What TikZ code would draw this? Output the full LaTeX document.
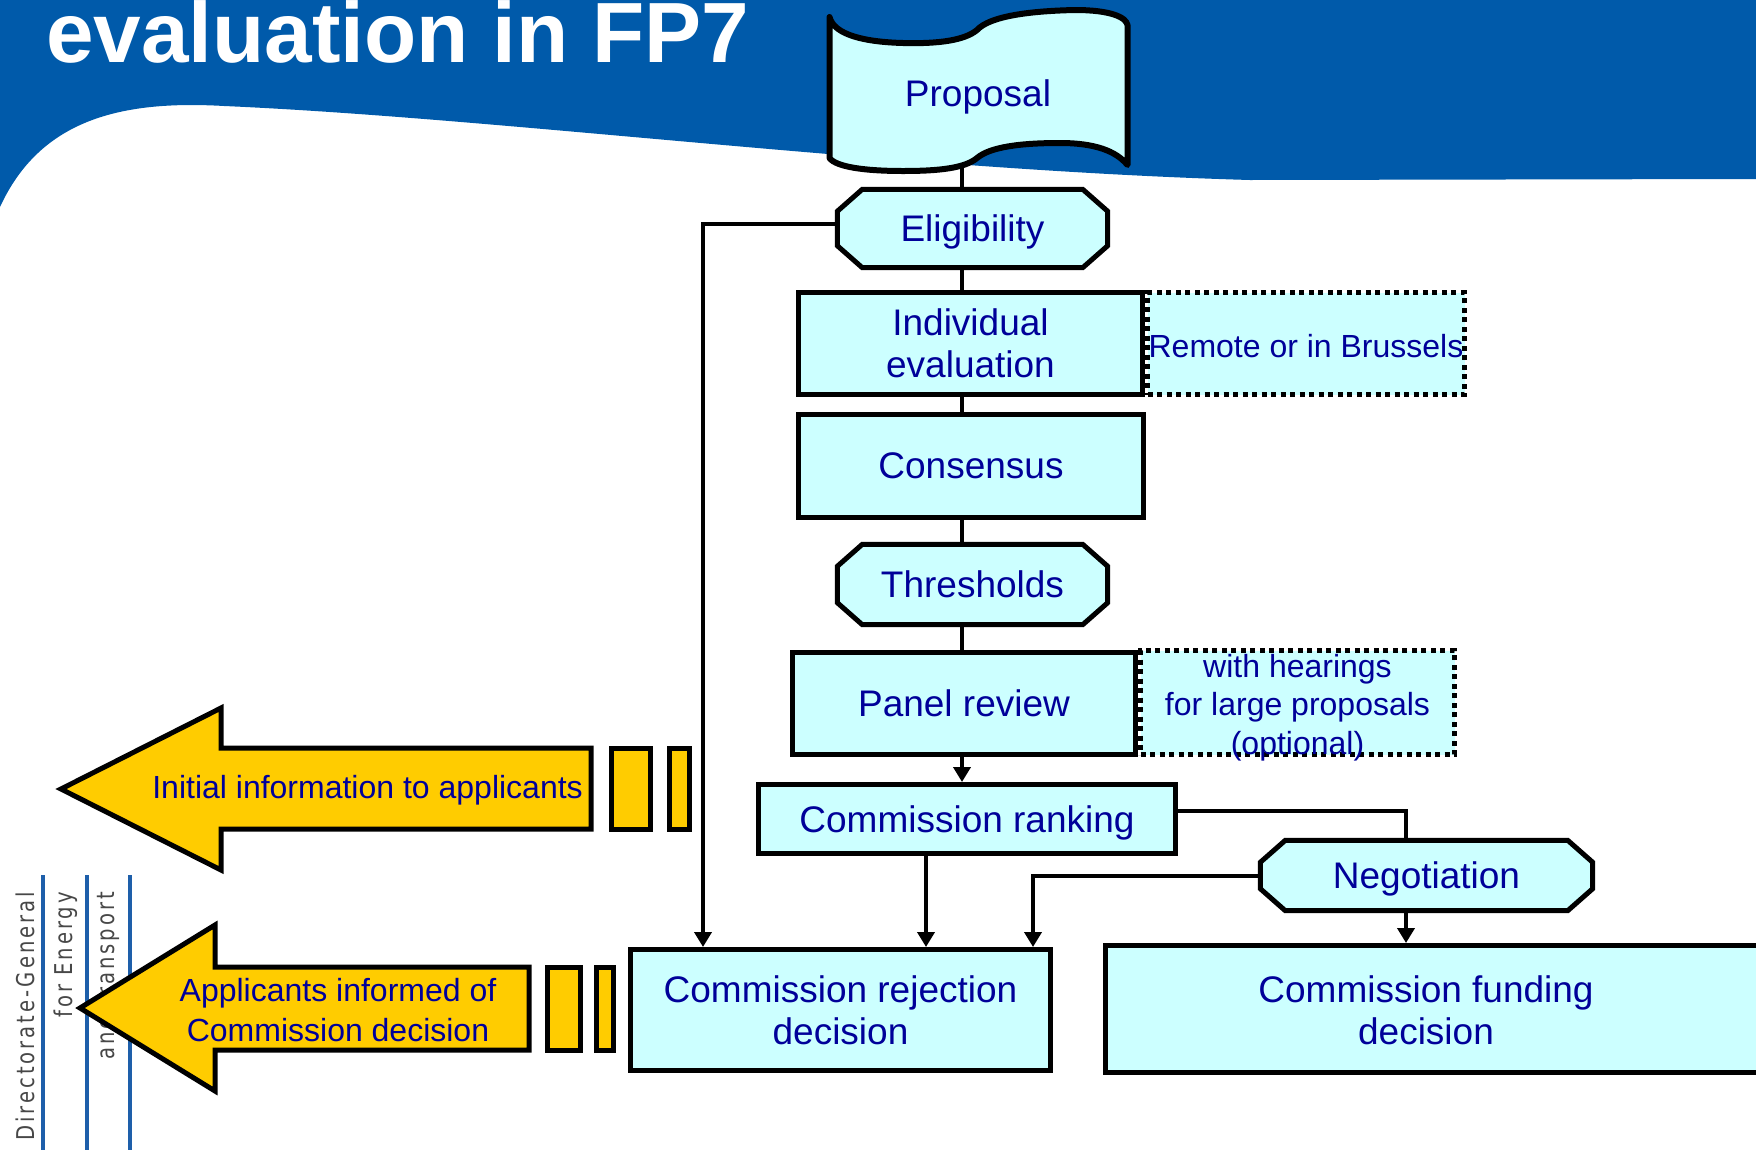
\documentclass[tikz,border=0pt]{standalone}
\usepackage{fontspec}
\setmainfont{Liberation Sans}
\newfontfamily\dgfont[FakeStretch=0.8,LetterSpace=12]{DejaVu Sans}
\usetikzlibrary{arrows.meta}
\definecolor{hdr}{RGB}{0,90,170}
\definecolor{boxfill}{RGB}{204,255,255}
\definecolor{txtblue}{RGB}{0,0,153}
\definecolor{yel}{RGB}{255,204,0}
\definecolor{dgline}{RGB}{30,95,170}
\pgfdeclarelayer{back}
\pgfdeclarelayer{conn}
\pgfdeclarelayer{shapes}
\pgfsetlayers{back,conn,shapes,main}
\tikzset{
  mainfont/.style={font=\fontsize{37}{42}\selectfont},
  smallfont/.style={font=\fontsize{32}{38.5}\selectfont},
  boxst/.style={draw=black, line width=5pt, fill=boxfill, text=txtblue, mainfont, align=center, inner sep=0pt},
  sidest/.style={draw=black, line width=5pt, dash pattern=on 5pt off 4.5pt, fill=boxfill, text=txtblue, smallfont, align=center, inner sep=0pt},
  txtonly/.style={text=txtblue, mainfont, align=center, inner sep=0pt},
  nodepth/.style={text depth=0pt},
  octst/.style={draw=black, line width=5pt, fill=boxfill, line join=miter},
  octo/.style={insert path={([xshift=25pt]#1.north west) -- ([xshift=-25pt]#1.north east) -- ([yshift=-22pt]#1.north east) -- ([yshift=22pt]#1.south east) -- ([xshift=-25pt]#1.south east) -- ([xshift=25pt]#1.south west) -- ([yshift=22pt]#1.south west) -- ([yshift=-22pt]#1.north west) -- cycle}},
  flagst/.style={draw=black, line width=6pt, fill=boxfill, line join=round},
  conn/.style={draw=black, line width=4pt},
  arr/.style={conn, -{Triangle[width=17pt,length=15pt]}},
  yarrow/.style={draw=black, line width=5pt, fill=yel, line join=miter},
  ytxt/.style={text=txtblue, align=center, inner sep=0pt, font=\fontsize{32}{40}\selectfont},
  dgl/.style={draw=dgline, line width=4pt},
  dgtxt/.style={text=black!72, font=\dgfont\fontsize{24.5}{24.5}\selectfont, inner sep=0pt, rotate=90, anchor=east},
  titlest/.style={text=white, font=\fontsize{85.5}{85.5}\selectfont\bfseries, inner sep=0pt, anchor=base west}
}
\begin{document}
\begin{tikzpicture}[x=1pt,y=-1pt]
\useasboundingbox (0,0) rectangle (1756,1149);
\begin{pgfonlayer}{back}
  \fill[hdr] (0,0) -- (1756,0) -- (1756,179) -- (1250,180) .. controls (900,170) and (500,118) .. (224,106) .. controls (120,100) and (40,120) .. (0,207) -- cycle;
\end{pgfonlayer}
\node[titlest] (title) at (46,62) {evaluation in FP7};

% left branding
\draw[dgl] (43,875) -- (43,1160);
\draw[dgl] (87,875) -- (87,1160);
\draw[dgl] (130,875) -- (130,1160);
\node[dgtxt] (dg1) at (25,892) {Directorate-General};
\node[dgtxt] (dg2) at (66,892) {for Energy};
\node[dgtxt] (dg3) at (108,892) {and Transport};

% guide coordinates
\coordinate (spine) at (962,0);
\coordinate (lx) at (703,0);
\coordinate (mx) at (926,0);
\coordinate (rx) at (1033,0);
\coordinate (nx) at (1406,0);

% nodes
\node[txtonly, nodepth, minimum width=300, minimum height=145] (prop) at (978,93.5) {Proposal};
\node[txtonly, nodepth, minimum width=270, minimum height=78] (elig) at (972.5,228.5) {Eligibility};
\node[sidest, text height=27pt, text depth=0pt, minimum width=317, minimum height=102] (remote) at (1306,343.5) {Remote or in Brussels};
\node[boxst, minimum width=344, minimum height=102] (indiv) at (970.5,343.5) {Individual\\evaluation};
\node[boxst, minimum width=345, minimum height=103] (cons) at (971,466) {Consensus};
\node[txtonly, minimum width=270, minimum height=80] (thr) at (972.5,584.5) {Thresholds};
\node[sidest, minimum width=314, minimum height=104] (hear) at (1297.5,702.5) {};
\node[text=txtblue, smallfont, align=center, inner sep=0pt] (hearT) at (hear) {\rule{0pt}{33pt}with hearings\\for large proposals\\(optional)};
\node[boxst, minimum width=343, minimum height=102] (panel) at (964,703.5) {Panel review};
\node[boxst, nodepth, minimum width=417, minimum height=69] (rank) at (967,819) {Commission ranking};
\node[txtonly, nodepth, minimum width=332, minimum height=70] (neg) at (1426.5,875.5) {Negotiation};
\node[boxst, minimum width=420, minimum height=121] (rej) at (840.5,1010) {Commission rejection\\decision};
\node[boxst, minimum width=700, minimum height=127, anchor=west] (fund) at (1102.5,1009) {};
\node[txtonly] (fundT) at (1426,1010) {Commission funding\\decision};

% shapes behind text
\begin{pgfonlayer}{shapes}
  \filldraw[flagst] (829.5,17) .. controls (834,35) and (865,42) .. (903,43) .. controls (940,44) and (965,40) .. (977,30) .. controls (990,16) and (1030,11) .. (1075,10) .. controls (1110,10) and (1126,17) .. (1127.5,25) -- (1127.5,165) .. controls (1116,151) and (1095,143) .. (1060,143) .. controls (1020,143) and (990,147) .. (977,158) .. controls (965,168) and (940,171) .. (903,171) .. controls (865,171) and (836,167) .. (829.5,158) -- cycle;
  \path[octst, octo=elig];
  \path[octst, octo=thr];
  \path[octst, octo=neg];
\end{pgfonlayer}

% connectors
\begin{pgfonlayer}{conn}
  \draw[conn] (prop.south -| spine) -- (elig.north -| spine);
  \draw[conn] (elig.south -| spine) -- (indiv.north -| spine);
  \draw[conn] (indiv.south -| spine) -- (cons.north -| spine);
  \draw[conn] (cons.south -| spine) -- (thr.north -| spine);
  \draw[conn] (thr.south -| spine) -- (panel.north -| spine);
  \draw[arr] (panel.south -| spine) -- (rank.north -| spine);
  \draw[arr] ([yshift=4.5pt]elig.west) -| (rej.north -| lx);
  \draw[arr] (rank.south -| mx) -- (rej.north -| mx);
  \draw[conn] ([yshift=8pt]rank.east) -| (neg.north -| nx);
  \draw[arr] (neg.west) -| (rej.north -| rx);
  \draw[arr] (neg.south -| nx) -- (fund.north -| nx);
\end{pgfonlayer}

% yellow arrows
\filldraw[yarrow] (61,789) -- (221,708) -- (221,748) -- (591,748) -- (591,829) -- (221,829) -- (221,870) -- cycle;
\filldraw[yarrow] (611,748) rectangle (650,829);
\filldraw[yarrow] (669,748) rectangle (689,829);
\node[ytxt, anchor=east] (info) at (583,790) {Initial information to applicants};

\filldraw[yarrow] (80,1008) -- (215,925) -- (215,967) -- (529,967) -- (529,1050) -- (215,1050) -- (215,1091) -- cycle;
\filldraw[yarrow] (547,967) rectangle (580,1050);
\filldraw[yarrow] (596,967) rectangle (613,1050);
\node[ytxt] (appl) at (338,1010) {Applicants informed of\\Commission decision};
\end{tikzpicture}
\end{document}
